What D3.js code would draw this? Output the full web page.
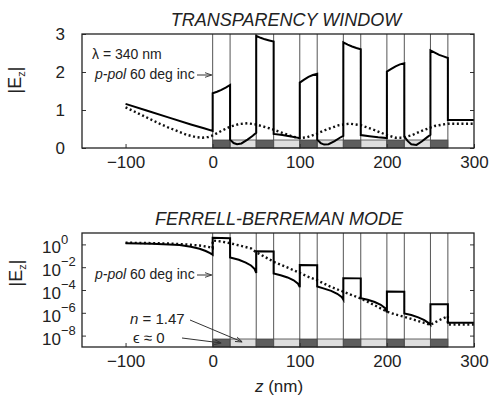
<!DOCTYPE html>
<html>
<head>
<meta charset="utf-8">
<script src="https://cdn.jsdelivr.net/npm/d3@7"></script>
<style>
  body { margin: 0; background: #fff; }
  svg { font-family: "Liberation Sans", Arial, sans-serif; }
  .axis path { display: none; }
  .axis line { stroke: #333; stroke-width: 1; }
</style>
</head>
<body>
<div id="chart"></div>
<script>
/* DATA */
// layer boundaries (nm) and layer kinds: ε≈0 (dark) / n=1.47 (light)
const layerEdges = [0, 20, 50, 70, 100, 120, 150, 170, 200, 220, 250, 270];
const layerKinds = ["eps", "n", "eps", "n", "eps", "n", "eps", "n", "eps", "n", "eps"];

const xTicks = [-100, 0, 100, 200, 300];
const topTicks = [0, 1, 2, 3];
const botTicks = [0, -2, -4, -6, -8]; // exponents

// top panel: transparency window, |Ez|
const topSolid = [
  [-100, 1.16], [-75, 0.98], [-50, 0.8], [-25, 0.62], [-10, 0.52], [0, 0.45],
  [0, 1.44], [5, 1.48], [10, 1.53], [15, 1.59], [20, 1.66],
  [20, 0.22], [24, 0.13], [28, 0.1], [33, 0.12], [40, 0.22], [46, 0.32], [50, 0.4],
  [50, 2.95], [55, 2.9], [60, 2.86], [65, 2.83], [70, 2.8],
  [70, 0.37], [80, 0.34], [90, 0.3], [100, 0.26],
  [100, 1.72], [105, 1.8], [110, 1.87], [115, 1.92], [120, 1.95],
  [120, 0.22], [124, 0.13], [128, 0.09], [133, 0.1], [140, 0.18], [146, 0.27], [150, 0.32],
  [150, 2.78], [155, 2.72], [160, 2.67], [165, 2.63], [170, 2.6],
  [170, 0.34], [180, 0.31], [190, 0.28], [200, 0.26],
  [200, 2.01], [205, 2.08], [210, 2.15], [215, 2.2], [220, 2.23],
  [220, 0.3], [224, 0.18], [228, 0.1], [234, 0.08], [240, 0.17], [246, 0.28], [250, 0.35],
  [250, 2.57], [255, 2.51], [260, 2.45], [265, 2.41], [270, 2.37],
  [270, 0.74], [300, 0.74]
];
const topDotted = [
  [-100, 1.07], [-90, 0.96], [-80, 0.85], [-70, 0.74], [-60, 0.63], [-50, 0.53], [-40, 0.44],
  [-30, 0.35], [-20, 0.29], [-12, 0.27], [-5, 0.29], [0, 0.33], [10, 0.45], [20, 0.56],
  [30, 0.63], [40, 0.65], [50, 0.62], [65, 0.52], [80, 0.4], [92, 0.3], [100, 0.26],
  [108, 0.28], [118, 0.36], [130, 0.48], [145, 0.6], [157, 0.64], [170, 0.6], [185, 0.48],
  [200, 0.34], [210, 0.27], [218, 0.27], [228, 0.33], [240, 0.45], [255, 0.58],
  [270, 0.64], [300, 0.64]
];

// bottom panel: Ferrell-Berreman mode, log10 |Ez|
const botSolid = [
  [-100, 0.1], [-70, 0.06], [-50, 0.0], [-38, -0.05], [-25, -0.2], [-15, -0.38],
  [-8, -0.58], [-3, -0.76], [0, -0.9],
  [0, 0.58], [20, 0.55],
  [20, -1.15], [30, -1.35], [38, -1.6], [44, -1.85], [48, -2.15], [50, -2.5],
  [50, -0.6], [70, -0.62],
  [70, -2.55], [78, -2.7], [86, -2.9], [93, -3.15], [98, -3.45], [100, -3.75],
  [100, -1.8], [120, -1.82],
  [120, -3.7], [128, -3.88], [136, -4.08], [143, -4.33], [148, -4.6], [150, -4.85],
  [150, -2.96], [170, -2.98],
  [170, -4.72], [178, -4.86], [186, -5.05], [193, -5.3], [198, -5.6], [200, -5.95],
  [200, -4.14], [220, -4.16],
  [220, -6.05], [228, -6.2], [236, -6.4], [243, -6.65], [248, -6.9], [250, -7.05],
  [250, -5.25], [270, -5.25],
  [270, -6.88], [300, -6.88]
];
const botDotted = [
  [-100, 0.15], [-75, 0.12], [-50, 0.08], [-30, 0.0], [-15, -0.1], [-5, -0.22], [0, -0.33],
  [0, 0.35], [10, 0.25], [20, 0.1], [30, -0.08], [44, -0.35], [50, -0.7], [60, -1.1],
  [72, -1.6], [88, -2.1], [100, -2.5], [110, -2.85], [120, -3.15], [135, -3.7],
  [150, -4.15], [160, -4.45], [170, -4.75], [185, -5.3], [200, -5.9], [210, -6.15],
  [220, -6.35], [235, -6.7], [250, -7.05], [260, -6.65], [270, -6.3],
  [270, -7.02], [300, -7.02]
];

/* LAYOUT */
const width = 491, height = 397;
const left = 82, right = 474;
const topPanel = { y0: 34, y1: 148 };
const botPanel = { y0: 233, y1: 347 };
const barH = 8;

const svg = d3.select("#chart").append("svg")
  .attr("width", width).attr("height", height);

const x = d3.scaleLinear().domain([-150, 300]).range([left, right]);
const yTop = d3.scaleLinear().domain([0, 3]).range([topPanel.y1, topPanel.y0]);
const yBot = d3.scaleLog().domain([1e-9, 1e1]).range([botPanel.y1, botPanel.y0]);

const layers = layerKinds.map((k, i) => ({ z0: layerEdges[i], z1: layerEdges[i + 1], kind: k }));

function panel(p, y, solid, dotted, isLog) {
  const g = svg.append("g");

  // layer strip along the bottom
  g.selectAll("rect.layer")
    .data(layers)
    .join("rect")
    .attr("class", "layer")
    .attr("x", d => x(d.z0))
    .attr("width", d => x(d.z1) - x(d.z0))
    .attr("y", p.y1 - barH)
    .attr("height", barH)
    .attr("fill", d => d.kind === "eps" ? "#5e5e5e" : "#dedede")
    .attr("stroke", "#444")
    .attr("stroke-width", 0.8);

  // layer boundaries
  g.selectAll("line.edge")
    .data(layerEdges)
    .join("line")
    .attr("class", "edge")
    .attr("x1", d => x(d)).attr("x2", d => x(d))
    .attr("y1", p.y0).attr("y2", p.y1)
    .attr("stroke", "#555")
    .attr("stroke-width", 1);

  const val = isLog ? (d => y(Math.pow(10, d[1]))) : (d => y(d[1]));
  const line = d3.line().x(d => x(d[0])).y(val);

  g.append("path")
    .datum(dotted)
    .attr("d", line)
    .attr("fill", "none")
    .attr("stroke", "#111")
    .attr("stroke-width", 2.4)
    .attr("stroke-dasharray", "2,2.6");

  g.append("path")
    .datum(solid)
    .attr("d", line)
    .attr("fill", "none")
    .attr("stroke", "#000")
    .attr("stroke-width", 2)
    .attr("stroke-linejoin", "miter");

  // axes, ticks pointing inward
  const xAxis = d3.axisBottom(x).tickValues(xTicks).tickSize(-4).tickPadding(8)
    .tickFormat(d => d < 0 ? "\u2212" + Math.abs(d) : d);
  g.append("g").attr("class", "axis")
    .attr("transform", `translate(0,${p.y1})`)
    .call(xAxis)
    .selectAll("text").attr("font-size", 17).attr("fill", "#222").attr("font-family", null);

  const yVals = isLog ? botTicks.map(e => Math.pow(10, e)) : topTicks;
  const yl = g.append("g").attr("class", "axis")
    .attr("transform", `translate(${left},0)`)
    .call(d3.axisLeft(y).tickValues(yVals).tickSize(-4).tickPadding(isLog ? 22 : 17).tickFormat(d => isLog ? "" : d));
  yl.selectAll("text").attr("font-size", 17).attr("fill", "#222").attr("font-family", null);
  g.append("g").attr("class", "axis")
    .attr("transform", `translate(${right},0)`)
    .call(d3.axisRight(y).tickValues(yVals).tickSize(-4).tickFormat(""));

  if (isLog) {
    yl.selectAll(".tick text").each(function (d) {
      const t = d3.select(this).attr("x", -21).attr("dy", "0.5em").text(null);
      t.append("tspan").text("10");
      t.append("tspan").attr("dy", "-0.75em").attr("font-size", 13)
        .text(Math.round(Math.log10(d)) === 0 ? "0" : "\u2212" + Math.abs(Math.round(Math.log10(d))));
    });
    yl.selectAll(".tick text").attr("text-anchor", "start")
      .attr("x", -40);
  }

  // frame
  g.append("rect")
    .attr("x", left).attr("y", p.y0)
    .attr("width", right - left).attr("height", p.y1 - p.y0)
    .attr("fill", "none").attr("stroke", "#222").attr("stroke-width", 1.3);

  // y label |Ez|
  const lab = g.append("text")
    .attr("transform", `translate(${p.labX},${p.labY}) rotate(-90)`)
    .attr("text-anchor", "middle")
    .attr("font-size", 18)
    .attr("fill", "#222");
  lab.append("tspan").text("|E");
  lab.append("tspan").attr("font-size", 11).attr("dy", 4).text("z");
  lab.append("tspan").attr("dy", -4).text("|");

  g.append("text")
    .attr("x", p.titleX).attr("y", p.y0 - 8)
    .attr("text-anchor", "middle")
    .attr("font-size", 18).attr("font-style", "italic")
    .attr("fill", "#222")
    .text(p.title);
  return g;
}

topPanel.title = "TRANSPARENCY WINDOW"; topPanel.titleX = 286; topPanel.labX = 21; topPanel.labY = 80;
botPanel.title = "FERRELL-BERREMAN MODE"; botPanel.titleX = 279; botPanel.labX = 22; botPanel.labY = 273;

const gTop = panel(topPanel, yTop, topSolid, topDotted, false);
const gBot = panel(botPanel, yBot, botSolid, botDotted, true);

// arrow marker
svg.append("defs").append("marker")
  .attr("id", "arr").attr("viewBox", "0 0 10 10")
  .attr("refX", 10).attr("refY", 5)
  .attr("markerWidth", 7).attr("markerHeight", 7)
  .attr("orient", "auto-start-reverse")
  .append("path").attr("d", "M0,1.5 L10,5 L0,8.5").attr("fill", "none").attr("stroke", "#333").attr("stroke-width", 1.3);

function ppol(g, yBase) {
  const t = g.append("text").attr("x", 95).attr("y", yBase)
    .attr("font-size", 14).attr("fill", "#222");
  t.append("tspan").attr("font-style", "italic").text("p-pol");
  t.append("tspan").text(" 60 deg inc");
  g.append("line")
    .attr("x1", 197).attr("x2", x(0) - 1)
    .attr("y1", yBase - 4).attr("y2", yBase - 4)
    .attr("stroke", "#333").attr("stroke-width", 1)
    .attr("marker-end", "url(#arr)");
}

gTop.append("text").attr("x", 92).attr("y", 59)
  .attr("font-size", 14).attr("fill", "#222").text("\u03bb = 340 nm");
ppol(gTop, 79);
ppol(gBot, 279);

const nLab = gBot.append("text").attr("x", 130).attr("y", 324)
  .attr("font-size", 15).attr("fill", "#222");
nLab.append("tspan").attr("font-style", "italic").text("n");
nLab.append("tspan").text(" = 1.47");
gBot.append("line")
  .attr("x1", 190).attr("y1", 320).attr("x2", x(34)).attr("y2", botPanel.y1 - 5)
  .attr("stroke", "#333").attr("stroke-width", 1).attr("marker-end", "url(#arr)");

gBot.append("text").attr("x", 133).attr("y", 343)
  .attr("font-size", 15).attr("fill", "#222").text("\u03f5 \u2248 0");
gBot.append("line")
  .attr("x1", 182).attr("y1", 338).attr("x2", x(10)).attr("y2", botPanel.y1 - 4)
  .attr("stroke", "#333").attr("stroke-width", 1).attr("marker-end", "url(#arr)");

// x label
const xl = svg.append("text").attr("x", 279).attr("y", 392)
  .attr("text-anchor", "middle").attr("font-size", 17).attr("fill", "#222");
xl.append("tspan").attr("font-style", "italic").text("z");
xl.append("tspan").text(" (nm)");
</script>
</body>
</html>
